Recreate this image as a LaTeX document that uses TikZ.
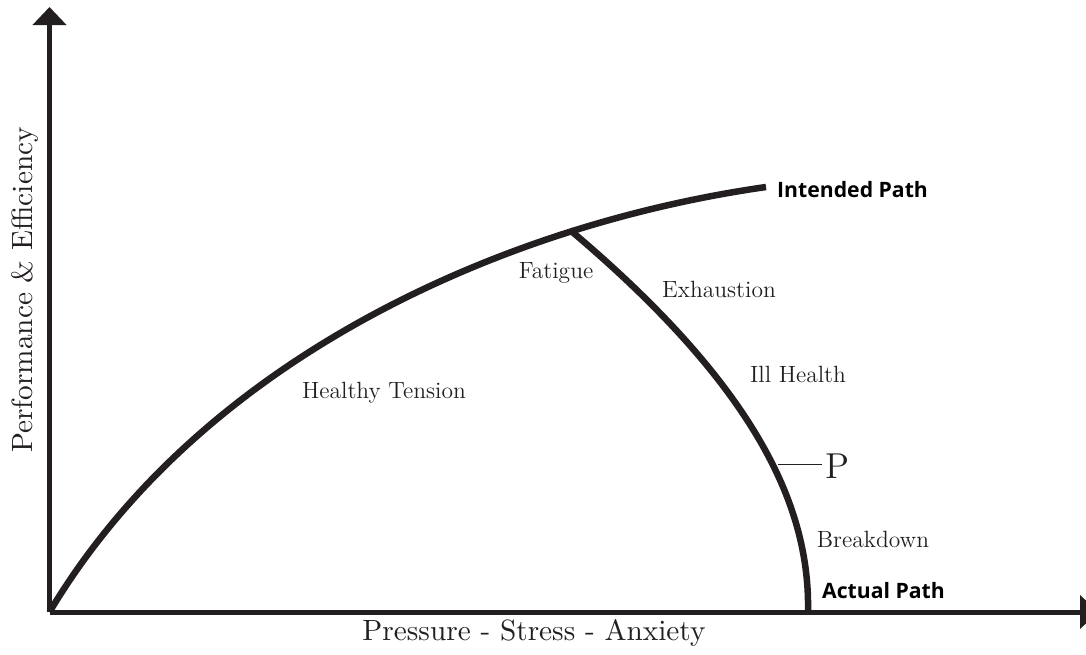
\documentclass[tikz,border=0pt]{standalone}
\usepackage{fontspec}
\newfontfamily\labelsans{Open Sans}
\newfontfamily\regionfont{lmroman12-regular.otf}
\newfontfamily\axisfont{lmroman10-regular.otf}
\usetikzlibrary{arrows.meta}
\definecolor{ink}{RGB}{35,31,32}
\tikzset{
  axis/.style={draw=ink, line width=5pt, -{Triangle[width=33pt,length=18pt]}},
  pathline/.style={draw=ink, line width=6.5pt, line cap=butt},
  region/.style={anchor=base, inner sep=0pt, text=ink, font=\regionfont\fontsize{23.5}{26}\selectfont},
  axislabel/.style={anchor=base, inner sep=0pt, text=ink, font=\axisfont\fontsize{29.3}{32}\selectfont},
  pathlabel/.style={anchor=base west, inner sep=0pt, text=black, font=\labelsans\bfseries\fontsize{21.2}{25}\selectfont},
}
\begin{document}
\begin{tikzpicture}[x=1pt,y=-1pt]
\useasboundingbox (0,0) rectangle (1086,654);
\clip (0,0) rectangle (1086,654);
% coordinates
\coordinate (O) at (49.5,612);
\coordinate (ytip) at (49.5,7);
\coordinate (xtip) at (1098,612);
\coordinate (branch) at (570,230);
\coordinate (iend) at (766,187);
\coordinate (aend) at (808,612);
% axes
\draw[axis] (O) -- (ytip);
\draw[axis] (O) -- (xtip);
% intended path
\draw[pathline] (O) .. controls (200,360) and (500,225) .. (iend);
% actual path
\draw[pathline] (branch) .. controls (760,390) and (810,510) .. (aend);
% P marker
\coordinate (ptick) at (778,464.5);
\node[anchor=base west, inner sep=0pt, text=ink, font=\regionfont\fontsize{36}{40}\selectfont] (P) at (825,478) {P};
\draw[ink, line width=1.3pt] (ptick) -- ([xshift=-3pt]P.west |- ptick);
% labels
\node[region] (ht) at (384,398) {Healthy Tension};
\node[region] (fat) at (556,278) {Fatigue};
\node[region] (exh) at (719,297) {Exhaustion};
\node[region] (ill) at (798,382) {Ill Health};
\node[region] (brk) at (873,547) {Breakdown};
\node[pathlabel] (ip) at (777,197) {Intended Path};
\node[pathlabel] (ap) at (822,598) {Actual Path};
\node[axislabel] (xl) at (534,640) {Pressure - Stress - Anxiety};
\node[axislabel, rotate=90] (yl) at (32,290) {Performance \& Efficiency};
\end{tikzpicture}
\end{document}
